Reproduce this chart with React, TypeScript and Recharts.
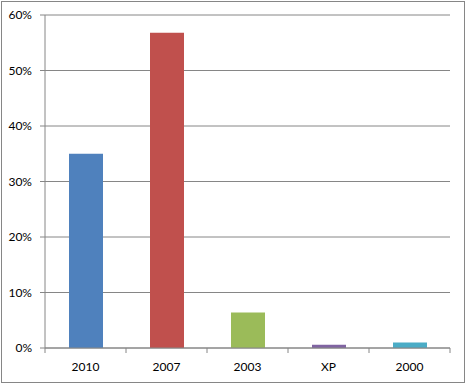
import { BarChart, Bar, Cell, XAxis, YAxis, CartesianGrid } from 'recharts';

// Office version share (%)
const versions = ['2010', '2007', '2003', 'XP', '2000'];
const share = [35, 56.8, 6.4, 0.6, 1.0];
const barColors = ['#4F81BD', '#C0504D', '#9BBB59', '#8064A2', '#4BACC6'];
const yTicks = [0, 10, 20, 30, 40, 50, 60];

const data = versions.map((v, i) => ({ version: v, share: share[i] }));

const GRAY = '#868686';
const FONT = 'Lato, "Open Sans", sans-serif';
const TICK_SIZE = 5;
const TICK_MARGIN = 8;

// category ticks sit between the bars, like Excel
function VersionTick(props: any) {
  const { x, y, payload, index } = props;
  const half = payload && payload.offset ? payload.offset : 40.5;
  const axisY = y - TICK_SIZE - TICK_MARGIN;
  return (
    <g>
      <line x1={x - half} x2={x - half} y1={axisY} y2={axisY + TICK_SIZE} stroke={GRAY} />
      {index === versions.length - 1 && (
        <line x1={x + half} x2={x + half} y1={axisY} y2={axisY + TICK_SIZE} stroke={GRAY} />
      )}
      <text x={x} y={y + 1} dy="0.71em" textAnchor="middle" fill="#000" fontSize={12} fontFamily={FONT}>
        {payload.value}
      </text>
    </g>
  );
}

export default function App() {
  return (
    <div style={{ position: 'absolute', left: 0, top: 0, width: 467, height: 384, background: '#fff' }}>
      <div
        style={{
          position: 'absolute',
          left: 1,
          top: 1,
          width: 464,
          height: 382,
          boxSizing: 'border-box',
          border: `1px solid ${GRAY}`,
        }}
      />
      <div style={{ position: 'absolute', left: 0, top: 0 }}>
        <BarChart width={467} height={384} data={data} margin={{ top: 15, right: 17, bottom: 0, left: 0 }}>
          <CartesianGrid vertical={false} stroke={GRAY} />
          <XAxis
            dataKey="version"
            height={36}
            axisLine={{ stroke: GRAY }}
            tickLine={false}
            tickSize={TICK_SIZE}
            tickMargin={TICK_MARGIN}
            tick={<VersionTick />}
            interval={0}
          />
          <YAxis
            width={45}
            domain={[0, 60]}
            ticks={yTicks}
            interval={0}
            axisLine={{ stroke: GRAY }}
            tickLine={{ stroke: GRAY }}
            tickSize={TICK_SIZE}
            tickMargin={8}
            tickFormatter={(v) => `${v}%`}
            tick={{ fontSize: 12, fill: '#000', fontFamily: FONT }}
          />
          <Bar dataKey="share" barSize={34} isAnimationActive={false}>
            {data.map((d, i) => (
              <Cell key={d.version} fill={barColors[i]} />
            ))}
          </Bar>
        </BarChart>
      </div>
    </div>
  );
}
